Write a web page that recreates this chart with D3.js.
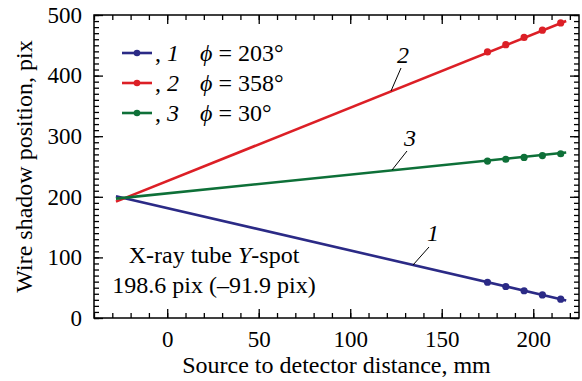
<!DOCTYPE html>
<html>
<head>
<meta charset="utf-8">
<script src="https://cdn.jsdelivr.net/npm/d3@7"></script>
<style>
  body { margin: 0; background: #fff; }
  svg text { font-family: "Liberation Serif", "Times New Roman", serif !important; fill: #000; }
</style>
</head>
<body>
<svg id="chart" width="582" height="381"></svg>
<script>
// values
const distances = [175, 185, 195, 205, 215];
const shadow1 = [59, 52, 45, 38, 31];
const shadow2 = [439, 451, 463, 475, 487];
const shadow3 = [259, 262, 265, 268, 271];
// fitted straight lines, given by their two ends
const fitRange = [-28, 218];
const fit1 = [201, 29];
const fit2 = [192, 490];
const fit3 = [197, 273];
const seriesIds = ['1', '2', '3'];
const phiValues = [203, 358, 30];
const colors = ['#2b2a86', '#dc1f26', '#0e7038'];
const xMajor = [0, 50, 100, 150, 200];
const yMajor = [0, 100, 200, 300, 400, 500];

let margin = {left: 94, right: 3, top: 15, bottom: 63};
let width = 582 - margin.left - margin.right;
let height = 381 - margin.top - margin.bottom;
let serif = '"Liberation Serif", "Times New Roman", serif';

let svg = d3.select('#chart');
let g = svg.append('g').attr('transform', 'translate(' + margin.left + ',' + margin.top + ')');

let x = d3.scaleLinear().domain([-40, 225]).range([0, width]);
let y = d3.scaleLinear().domain([0, 500]).range([height, 0]);

let xMinor = d3.range(-40, 221, 10);
let yMinor = d3.range(0, 501, 10);

function styleAxis(sel) {
	sel.attr('font-family', null).attr('font-size', null);
	sel.select('.domain').remove();
	sel.selectAll('line').attr('stroke', '#000').attr('stroke-width', 1.3);
	sel.selectAll('text').attr('font-size', 23).style('font-family', serif);
}

// minor ticks on all four sides
g.append('g').attr('transform', 'translate(0,' + height + ')')
	.call(d3.axisBottom(x).tickValues(xMinor).tickSize(-5).tickFormat(''))
	.call(styleAxis);
g.append('g')
	.call(d3.axisTop(x).tickValues(xMinor).tickSize(-5).tickFormat(''))
	.call(styleAxis);
g.append('g')
	.call(d3.axisLeft(y).tickValues(yMinor).tickSize(-5).tickFormat(''))
	.call(styleAxis);
g.append('g').attr('transform', 'translate(' + width + ',0)')
	.call(d3.axisRight(y).tickValues(yMinor).tickSize(-5).tickFormat(''))
	.call(styleAxis);

// major ticks and labels
g.append('g').attr('transform', 'translate(0,' + height + ')')
	.call(d3.axisBottom(x).tickValues(xMajor).tickSize(-9).tickPadding(13).tickFormat(d3.format('d')))
	.call(styleAxis);
g.append('g')
	.call(d3.axisTop(x).tickValues(xMajor).tickSize(-9).tickFormat(''))
	.call(styleAxis);
g.append('g')
	.call(d3.axisLeft(y).tickValues(yMajor).tickSize(-9).tickPadding(12).tickFormat(d3.format('d')))
	.call(styleAxis);
g.append('g').attr('transform', 'translate(' + width + ',0)')
	.call(d3.axisRight(y).tickValues(yMajor).tickSize(-9).tickFormat(''))
	.call(styleAxis);

g.append('rect')
	.attr('width', width).attr('height', height)
	.attr('fill', 'none').attr('stroke', '#000').attr('stroke-width', 1.5);

// fitted lines and measured points
let fits = [fit1, fit2, fit3];
let shadows = [shadow1, shadow2, shadow3];
let line = d3.line().x(function (d) { return x(d[0]); }).y(function (d) { return y(d[1]); });

for (let i = 0; i < 3; i++) {
	let fitPts = fitRange.map(function (d, j) { return [d, fits[i][j]]; });
	g.append('path')
		.attr('d', line(fitPts))
		.attr('fill', 'none')
		.attr('stroke', colors[i])
		.attr('stroke-width', 2.6);
	g.selectAll('.pt' + i)
		.data(distances.map(function (d, j) { return [d, shadows[i][j]]; }))
		.enter().append('circle')
		.attr('class', 'pt' + i)
		.attr('cx', function (d) { return x(d[0]); })
		.attr('cy', function (d) { return y(d[1]); })
		.attr('r', 3.6)
		.attr('fill', colors[i]);
}

// curve labels with leader lines
let curveLabels = [
	{id: '1', tx: 433, ty: 241, x1: 429, y1: 247, x2: 413, y2: 265},
	{id: '2', tx: 403, ty: 63, x1: 401, y1: 68, x2: 391, y2: 91},
	{id: '3', tx: 410, ty: 146, x1: 407, y1: 151, x2: 392, y2: 170}
];
for (let c of curveLabels) {
	svg.append('line')
		.attr('x1', c.x1).attr('y1', c.y1).attr('x2', c.x2).attr('y2', c.y2)
		.attr('stroke', '#000').attr('stroke-width', 1);
	svg.append('text')
		.attr('x', c.tx).attr('y', c.ty)
		.attr('text-anchor', 'middle')
		.attr('font-size', 24)
		.attr('font-style', 'italic')
		.text(c.id);
}

// legend
let legX = 122, legY = 53;
for (let i = 0; i < 3; i++) {
	let ly = legY + i * 30;
	svg.append('line')
		.attr('x1', legX).attr('x2', legX + 30)
		.attr('y1', ly).attr('y2', ly)
		.attr('stroke', colors[i]).attr('stroke-width', 2.6);
	svg.append('circle')
		.attr('cx', legX + 15).attr('cy', ly).attr('r', 3.3)
		.attr('fill', colors[i]);
	let t = svg.append('text')
		.attr('x', legX + 33).attr('y', ly + 8)
		.attr('font-size', 24);
	t.append('tspan').text(', ');
	t.append('tspan').attr('font-style', 'italic').text(seriesIds[i]);
	let t2 = svg.append('text')
		.attr('x', legX + 78).attr('y', ly + 8)
		.attr('font-size', 24);
	t2.append('tspan').attr('font-style', 'italic').text('\u03D5');
	t2.append('tspan').text(' = ' + phiValues[i] + '\u00B0');
}

// annotation
let ann1 = svg.append('text')
	.attr('x', 214).attr('y', 263)
	.attr('text-anchor', 'middle')
	.attr('font-size', 24);
ann1.append('tspan').text('X-ray tube ');
ann1.append('tspan').attr('font-style', 'italic').text('Y');
ann1.append('tspan').text('-spot');
svg.append('text')
	.attr('x', 214).attr('y', 293)
	.attr('text-anchor', 'middle')
	.attr('font-size', 24)
	.text('198.6 pix (\u201391.9 pix)');

// axis titles
svg.append('text')
	.attr('x', margin.left + width / 2).attr('y', 373)
	.attr('text-anchor', 'middle')
	.attr('font-size', 24)
	.text('Source to detector distance, mm');
svg.append('text')
	.attr('transform', 'translate(32,' + (margin.top + height / 2) + ') rotate(-90)')
	.attr('text-anchor', 'middle')
	.attr('font-size', 24)
	.text('Wire shadow position, pix');
</script>
</body>
</html>
